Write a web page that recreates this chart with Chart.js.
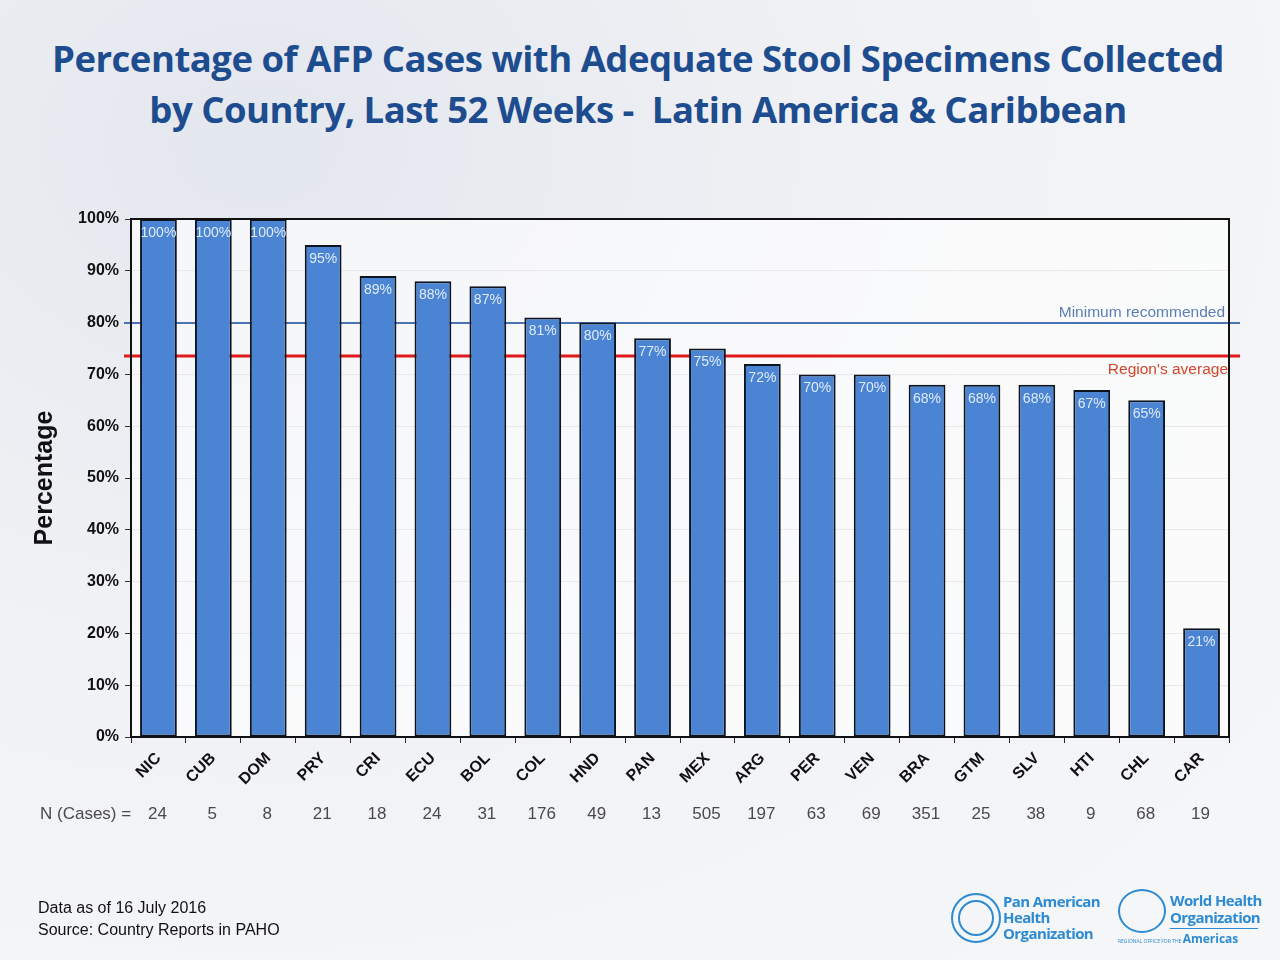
<!DOCTYPE html>
<html>
<head>
<meta charset="utf-8">
<script src="https://cdn.jsdelivr.net/npm/chart.js@4.4.1/dist/chart.umd.min.js"></script>
<style>
  html, body { margin: 0; padding: 0; }
  body {
    width: 1280px; height: 960px; position: relative; overflow: hidden;
    background: radial-gradient(ellipse at 20% 15%, #e3e7ee 0%, #f1f2f5 45%, #f6f7f9 100%);
    font-family: "Liberation Sans", Arial, sans-serif;
  }
  #title {
    position: absolute; left: 0; top: 33px; width: 1276px; text-align: center;
    font-family: "Open Sans", sans-serif; font-weight: 700; font-size: 36.5px;
    line-height: 51px; color: #1d4c8f; letter-spacing: -0.5px;
  }
  #wrap { position: absolute; left: 0; top: 0; width: 1280px; height: 960px; }
  #note {
    position: absolute; left: 38px; top: 897px; font-size: 16px; line-height: 22px; color: #111;
  }
  .logo { position: absolute; color: #2d8bd3; font-family: "Open Sans", sans-serif; font-weight: 700; }
  .emblem { position: absolute; border: 2px solid #2d8bd3; border-radius: 50%; }
</style>
</head>
<body>
<div id="title">Percentage of AFP Cases with Adequate Stool Specimens Collected<br>by Country, Last 52 Weeks -&nbsp; Latin America &amp; Caribbean</div>
<div id="wrap"><canvas id="c" width="1280" height="960"></canvas></div>
<div id="note">Data as of 16 July 2016<br>Source: Country Reports in PAHO</div>

<div class="emblem" style="left:951px;top:893px;width:46px;height:46px;"></div>
<div class="emblem" style="left:958px;top:900px;width:32px;height:32px;"></div>
<div class="logo" style="left:1003px;top:893px;font-size:15px;line-height:16px;letter-spacing:-0.6px;">Pan American<br>Health<br>Organization</div>
<div class="emblem" style="left:1118px;top:889px;width:44px;height:40px;"></div>
<div class="logo" style="left:1170px;top:892px;font-size:15px;line-height:17px;letter-spacing:-0.6px;">World Health<br>Organization</div>
<div style="position:absolute;left:1170px;top:928px;width:88px;border-top:1px solid #2d8bd3;"></div>
<div class="logo" style="left:1118px;top:932px;font-size:12px;line-height:14px;"><span style="font-size:5px;font-weight:400;">REGIONAL OFFICE FOR THE </span>Americas</div>

<script>
// data
const countries = ['NIC', 'CUB', 'DOM', 'PRY', 'CRI', 'ECU', 'BOL', 'COL', 'HND', 'PAN',
                   'MEX', 'ARG', 'PER', 'VEN', 'BRA', 'GTM', 'SLV', 'HTI', 'CHL', 'CAR'];
const adequatePct = [100, 100, 100, 95, 89, 88, 87, 81, 80, 77, 75, 72, 70, 70, 68, 68, 68, 67, 65, 21];
const nCases = [24, 5, 8, 21, 18, 24, 31, 176, 49, 13, 505, 197, 63, 69, 351, 25, 38, 9, 68, 19];
const yTicks = [0, 10, 20, 30, 40, 50, 60, 70, 80, 90, 100];
const minimumRecommended = 80;
const regionAverage = 73.5;

const extras = {
  id: 'extras',
  beforeDatasetsDraw(chart) {
    const { ctx, chartArea: a, scales: { y } } = chart;
    ctx.save();
    ctx.fillStyle = 'rgba(255,255,255,0.6)';
    ctx.fillRect(a.left, a.top, a.right - a.left, a.bottom - a.top);
    // reference lines, behind the bars
    const lines = [[minimumRecommended, '#4a73b3', 2], [regionAverage, '#e01a1a', 3]];
    lines.forEach(([v, col, w]) => {
      const py = Math.round(y.getPixelForValue(v));
      ctx.strokeStyle = col; ctx.lineWidth = w;
      ctx.beginPath(); ctx.moveTo(a.left - 7, py); ctx.lineTo(a.right + 11, py); ctx.stroke();
    });
    ctx.restore();
  },
  afterDatasetsDraw(chart) {
    const { ctx, chartArea: a, scales: { x, y } } = chart;
    ctx.save();
    // frame
    ctx.strokeStyle = '#111'; ctx.lineWidth = 2;
    ctx.strokeRect(a.left, a.top, a.right - a.left, a.bottom - a.top);
    // value labels inside bars
    ctx.font = '14px "Liberation Sans", Arial, sans-serif';
    ctx.fillStyle = '#dfeaf8'; ctx.textAlign = 'center'; ctx.textBaseline = 'middle';
    adequatePct.forEach((v, i) => {
      ctx.fillText(v + '%', x.getPixelForValue(i), y.getPixelForValue(v) + 14);
    });
    // reference line captions
    ctx.font = '15.5px "Liberation Sans", Arial, sans-serif';
    ctx.textAlign = 'right'; ctx.textBaseline = 'alphabetic';
    ctx.fillStyle = '#5b7db5';
    ctx.fillText('Minimum recommended', a.right - 4, y.getPixelForValue(minimumRecommended) - 6);
    ctx.fillStyle = '#d2452a';
    ctx.fillText("Region's average", a.right - 1, y.getPixelForValue(regionAverage) + 18);
    // N (Cases) row
    ctx.font = '17px "Liberation Sans", Arial, sans-serif';
    ctx.fillStyle = '#4a4a4a'; ctx.textBaseline = 'middle';
    ctx.textAlign = 'left';
    ctx.fillText('N (Cases) =', 40, 814);
    ctx.textAlign = 'center';
    nCases.forEach((n, i) => ctx.fillText(String(n), x.getPixelForValue(i) - 1, 814));
    ctx.restore();
  }
};

new Chart(document.getElementById('c').getContext('2d'), {
  type: 'bar',
  data: {
    labels: countries,
    datasets: [{
      data: adequatePct,
      backgroundColor: '#4a84d3',
      borderColor: '#0d1420',
      borderWidth: 2,
      borderSkipped: false,
      categoryPercentage: 1,
      barPercentage: 0.67
    }]
  },
  options: {
    responsive: false,
    animation: false,
    layout: { padding: { left: 30, right: 51, top: 219, bottom: 163 } },
    plugins: { legend: { display: false }, tooltip: { enabled: false } },
    scales: {
      x: {
        afterFit(s) { s.height = 60; },
        grid: { drawOnChartArea: false, drawTicks: true, tickLength: 6, color: '#222', lineWidth: 1 },
        border: { color: '#111', width: 2 },
        ticks: {
          minRotation: 45, maxRotation: 45, padding: 6, color: '#111',
          font: { family: '"Liberation Sans", Arial, sans-serif', size: 16, weight: 'bold' }
        }
      },
      y: {
        min: 0, max: 100,
        afterFit(s) { s.width = 101; },
        afterBuildTicks(s) { s.ticks = yTicks.map(v => ({ value: v })); },
        grid: { color: '#c8c8c8', lineWidth: 1, tickLength: 6, tickColor: '#333' },
        border: { color: '#111', width: 2 },
        ticks: {
          color: '#111', padding: 6,
          font: { family: '"Liberation Sans", Arial, sans-serif', size: 16, weight: 'bold' },
          callback: v => v + '%'
        },
        title: {
          display: true, text: 'Percentage', color: '#111',
          font: { family: '"Liberation Sans", Arial, sans-serif', size: 25, weight: 'bold' },
          padding: { top: 0, bottom: 0 }
        }
      }
    }
  },
  plugins: [extras]
});
</script>
</body>
</html>
